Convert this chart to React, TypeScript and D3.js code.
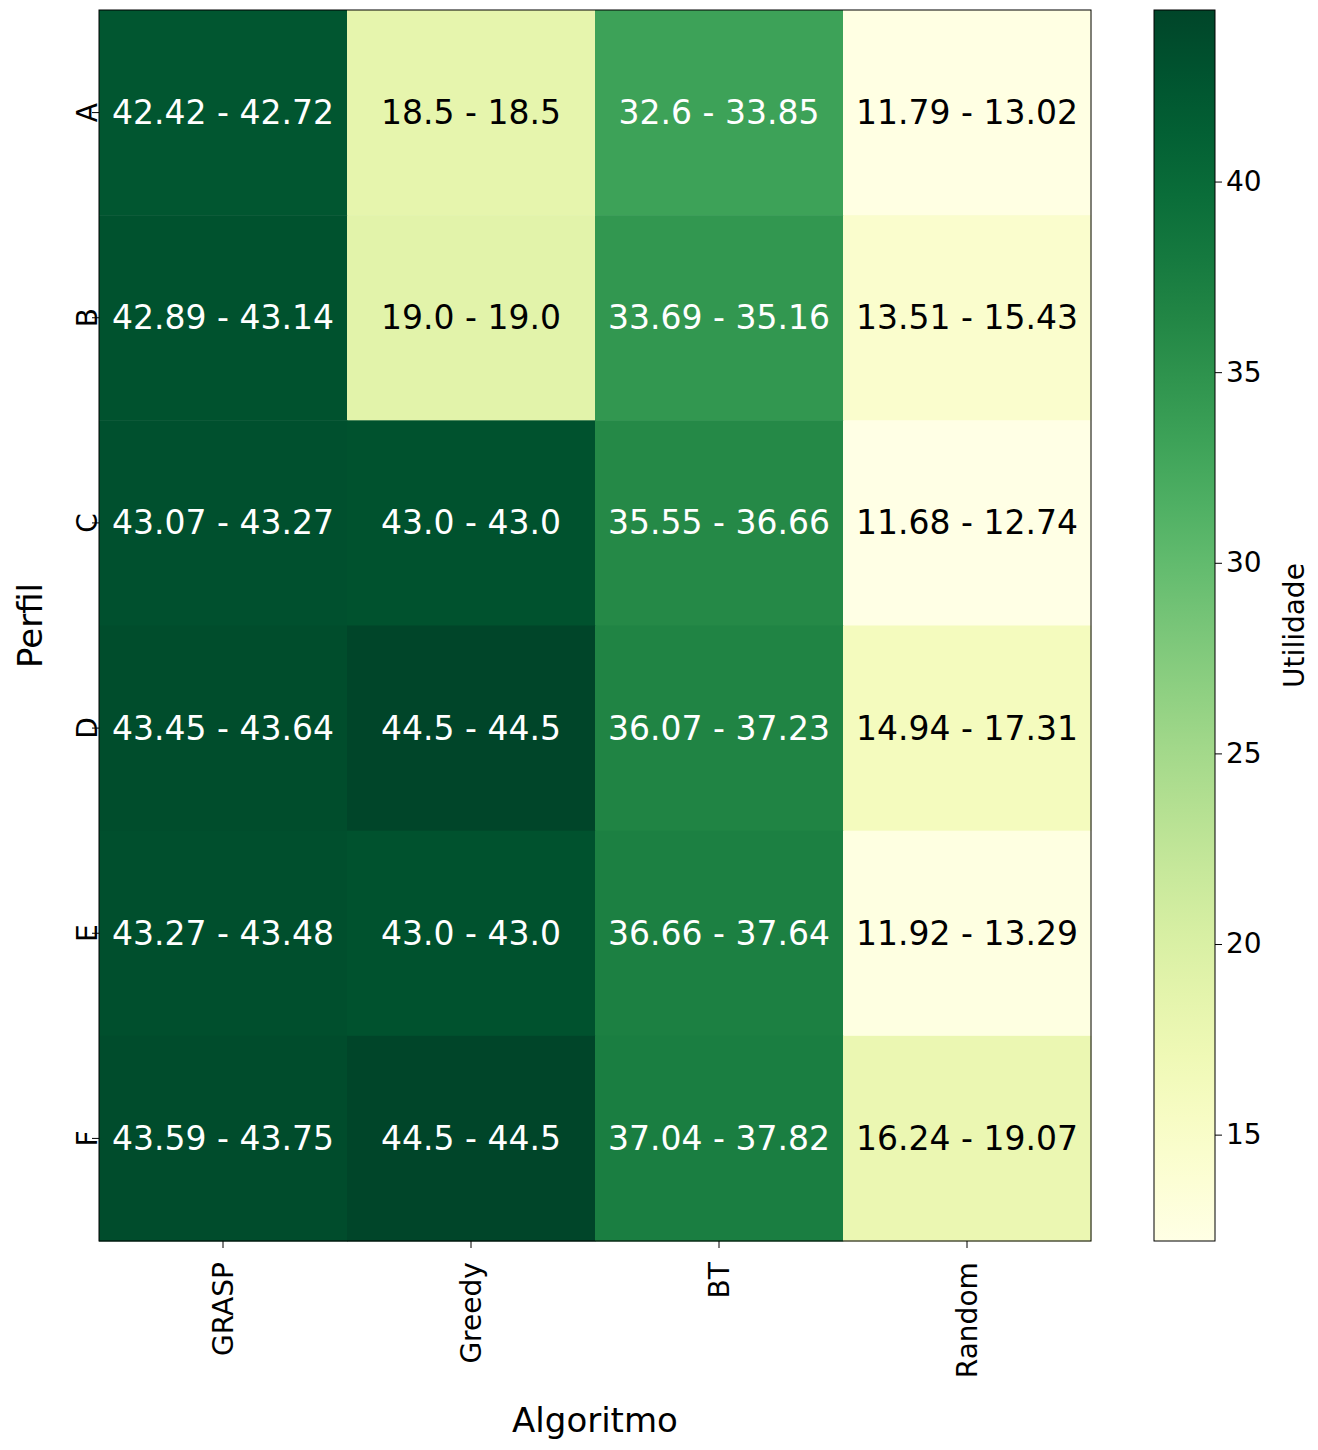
import React, { useEffect, useRef } from 'react';
import * as d3 from 'd3';

const algorithms = ['GRASP', 'Greedy', 'BT', 'Random'];
const profiles = ['A', 'B', 'C', 'D', 'E', 'F'];
// [low, high] per profile, per algorithm
const lows = [
  [42.42, 18.5, 32.6, 11.79],
  [42.89, 19.0, 33.69, 13.51],
  [43.07, 43.0, 35.55, 11.68],
  [43.45, 44.5, 36.07, 14.94],
  [43.27, 43.0, 36.66, 11.92],
  [43.59, 44.5, 37.04, 16.24],
];
const highs = [
  [42.72, 18.5, 33.85, 13.02],
  [43.14, 19.0, 35.16, 15.43],
  [43.27, 43.0, 36.66, 12.74],
  [43.64, 44.5, 37.23, 17.31],
  [43.48, 43.0, 37.64, 13.29],
  [43.75, 44.5, 37.82, 19.07],
];
const cbTicks = [15, 20, 25, 30, 35, 40];

const fmt = (v: number) => (Number.isInteger(v) ? v.toFixed(1) : String(v));

export default function App() {
  const ref = useRef<SVGSVGElement>(null);
  useEffect(() => {
    const svg = d3.select(ref.current);
    svg.selectAll('*').remove();
    const font = 'DejaVu Sans';
    const L = 99, R = 1091, T = 10, B = 1241;
    const x = d3.scaleBand().domain(algorithms).range([L, R]);
    const y = d3.scaleBand().domain(profiles).range([T, B]);
    const cells: { p: string; a: string; lo: number; hi: number; m: number }[] = [];
    profiles.forEach((p, i) => algorithms.forEach((a, j) => {
      const lo = lows[i][j], hi = highs[i][j];
      cells.push({ p, a, lo, hi, m: (lo + hi) / 2 });
    }));
    const ext = d3.extent(cells, d => d.m) as [number, number];
    const color = d3.scaleSequential(d3.interpolateYlGn).domain(ext);
    const lum = (c: string) => {
      const r = d3.rgb(c);
      const f = (v: number) => { v /= 255; return v <= 0.03928 ? v / 12.92 : Math.pow((v + 0.055) / 1.055, 2.4); };
      return 0.2126 * f(r.r) + 0.7152 * f(r.g) + 0.0722 * f(r.b);
    };
    const g = svg.append('g');
    g.selectAll('rect').data(cells).enter().append('rect')
      .attr('x', d => x(d.a)!).attr('y', d => y(d.p)!)
      .attr('width', x.bandwidth() + 0.5).attr('height', y.bandwidth() + 0.5)
      .attr('fill', d => color(d.m));
    g.selectAll('text').data(cells).enter().append('text')
      .attr('x', d => x(d.a)! + x.bandwidth() / 2).attr('y', d => y(d.p)! + y.bandwidth() / 2)
      .attr('text-anchor', 'middle').attr('dominant-baseline', 'central')
      .attr('font-family', font).attr('font-size', 33)
      .attr('fill', d => (lum(color(d.m)) > 0.408 ? 'black' : 'white'))
      .text(d => `${fmt(d.lo)} - ${fmt(d.hi)}`);
    svg.append('rect').attr('x', L).attr('y', T).attr('width', R - L).attr('height', B - T)
      .attr('fill', 'none').attr('stroke', 'black').attr('stroke-width', 1);

    const xa = svg.append('g').attr('transform', `translate(0,${B})`).call(d3.axisBottom(x).tickSize(7).tickSizeOuter(0));
    xa.select('.domain').remove();
    xa.selectAll('text').attr('font-family', font).attr('font-size', 28).attr('fill', 'black')
      .attr('transform', 'rotate(-90)').attr('text-anchor', 'end').attr('dx', '-0.4em').attr('dy', '0.35em').attr('x', -10).attr('y', 0);
    const ya = svg.append('g').attr('transform', `translate(${L},0)`).call(d3.axisLeft(y).tickSize(7).tickSizeOuter(0));
    ya.select('.domain').remove();
    ya.selectAll('text').attr('font-family', font).attr('font-size', 28).attr('fill', 'black')
      .attr('transform', 'rotate(-90)').attr('text-anchor', 'middle').attr('x', 0).attr('y', 0)
      .attr('dy', '-0.45em').attr('dx', 0);
    ya.selectAll('.tick text').each(function () {
      const t = d3.select(this.parentNode as any).attr('transform');
      const yy = +t.match(/,([\d.]+)/)![1];
      d3.select(this).attr('transform', `translate(-12,0) rotate(-90)`).attr('y', 0).attr('x', 0).attr('dy', '0.35em');
      void yy;
    });
    svg.append('text').attr('x', (L + R) / 2).attr('y', 1432).attr('text-anchor', 'middle')
      .attr('font-family', font).attr('font-size', 34).text('Algoritmo');
    svg.append('text').attr('transform', `translate(42,${(T + B) / 2}) rotate(-90)`).attr('text-anchor', 'middle')
      .attr('font-family', font).attr('font-size', 34).text('Perfil');

    // colorbar
    const cx = 1154, cw = 61;
    const cy = d3.scaleLinear().domain(ext).range([B, T]);
    const defs = svg.append('defs');
    const grad = defs.append('linearGradient').attr('id', 'cb').attr('x1', 0).attr('y1', 1).attr('x2', 0).attr('y2', 0);
    d3.range(0, 1.001, 0.05).forEach(t => grad.append('stop').attr('offset', t).attr('stop-color', d3.interpolateYlGn(t)));
    svg.append('rect').attr('x', cx).attr('y', T).attr('width', cw).attr('height', B - T).attr('fill', 'url(#cb)')
      .attr('stroke', 'black').attr('stroke-width', 1);
    const ca = svg.append('g').attr('transform', `translate(${cx + cw},0)`).call(d3.axisRight(cy).tickValues(cbTicks).tickSize(7));
    ca.select('.domain').remove();
    ca.selectAll('text').attr('font-family', font).attr('font-size', 28).attr('fill', 'black').attr('x', 11);
    svg.append('text').attr('transform', `translate(1304,${(T + B) / 2}) rotate(-90)`).attr('text-anchor', 'middle')
      .attr('font-family', font).attr('font-size', 28).text('Utilidade');
  }, []);
  return <svg ref={ref} width={1318} height={1450} style={{ display: 'block', margin: -8 }} />;
}
